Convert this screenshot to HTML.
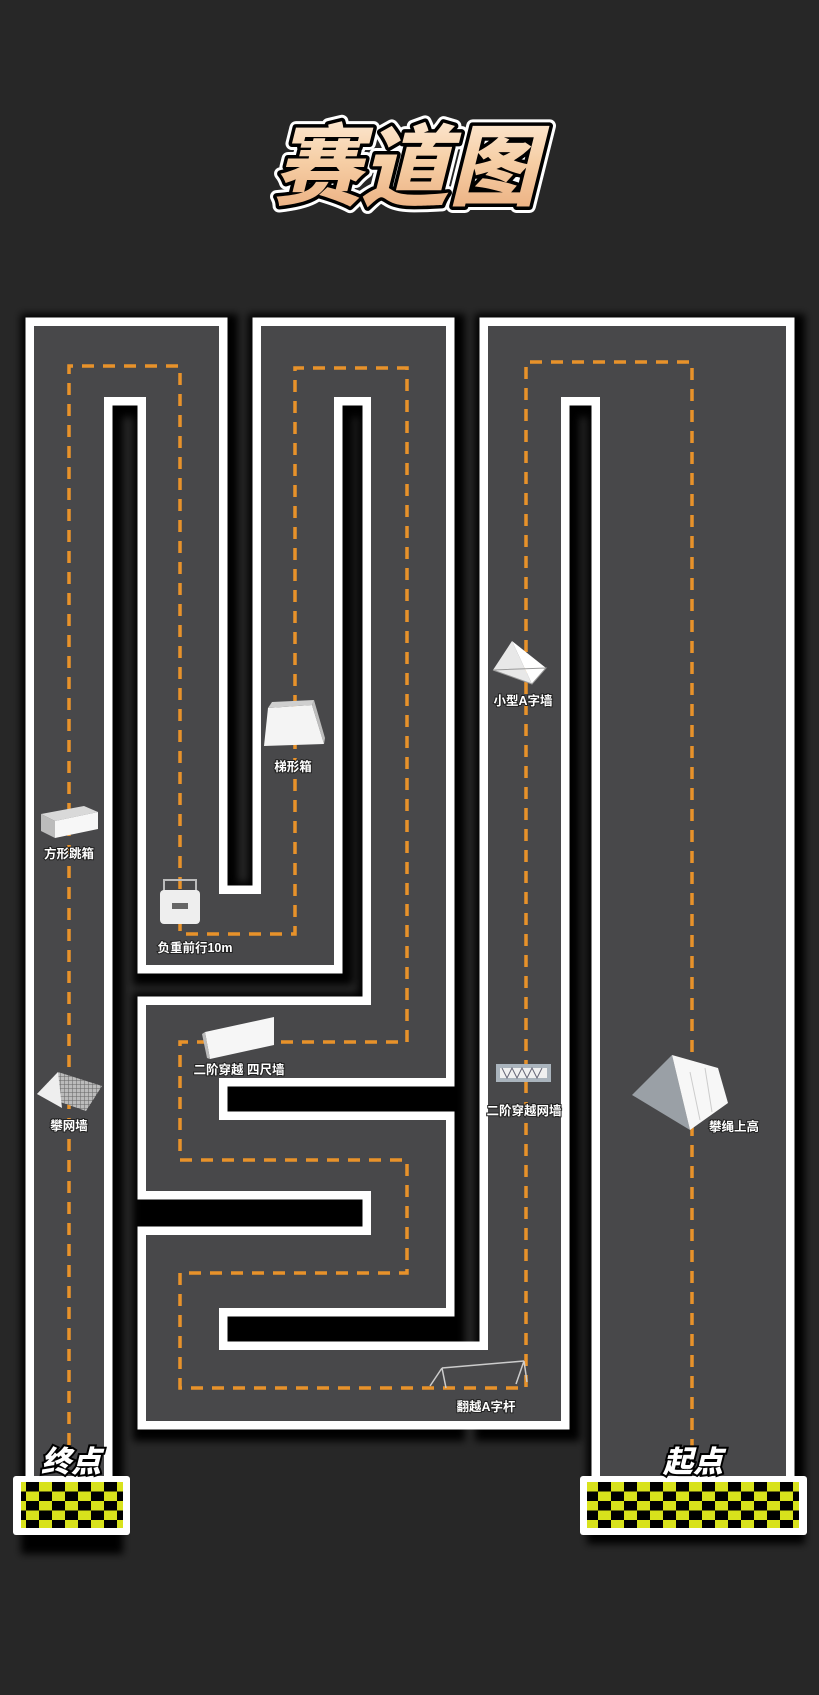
<!DOCTYPE html>
<html><head><meta charset="utf-8"><style>
html,body{margin:0;padding:0;background:#272727;}
svg{display:block}
.lb{font-family:"Liberation Sans","Noto Sans CJK SC",sans-serif;font-weight:bold;font-size:12.5px;fill:#fff;text-anchor:middle;paint-order:stroke;stroke:#222;stroke-width:2px}
.big{font-family:"Liberation Sans","Noto Sans CJK SC",sans-serif;font-weight:900;font-size:30px;fill:#fff;font-style:italic;text-anchor:middle;paint-order:stroke;stroke:#000;stroke-width:4px}
.title{font-family:"Noto Sans CJK SC","WenQuanYi Zen Hei",sans-serif;font-weight:900;font-size:88px;text-anchor:middle;font-style:italic}
</style></head><body>
<svg width="819" height="1695" viewBox="0 0 819 1695" xmlns="http://www.w3.org/2000/svg">
<defs>
<filter id="blur" x="-10%" y="-10%" width="120%" height="120%"><feGaussianBlur stdDeviation="4"/></filter>
<linearGradient id="tg" x1="0" y1="0" x2="0" y2="1">
<stop offset="0" stop-color="#fff3e6"/><stop offset="0.5" stop-color="#f6cfa6"/><stop offset="1" stop-color="#e9a979"/>
</linearGradient>
<pattern id="chk" x="0" y="0" width="26" height="19" patternUnits="userSpaceOnUse">
<rect width="26" height="19" fill="#d8e21c"/>
<rect x="0" y="0" width="13" height="9.5" fill="#000"/>
<rect x="13" y="9.5" width="13" height="9.5" fill="#000"/>
</pattern>
<pattern id="grid" width="4" height="4" patternUnits="userSpaceOnUse"><rect width="4" height="4" fill="#bbb"/><path d="M0 0H4M0 0V4" stroke="#666" stroke-width="1"/></pattern>
</defs>
<rect width="819" height="1695" fill="#272727"/>

<!-- title -->
<g transform="translate(405,198)">
<text class="title" x="0" y="0" fill="none" stroke="#fff" stroke-width="13" stroke-linejoin="round">赛道图</text>
<text class="title" x="0" y="0" fill="none" stroke="#000" stroke-width="7" stroke-linejoin="round">赛道图</text>
<text class="title" x="0" y="0" fill="url(#tg)">赛道图</text>
</g>

<!-- shadows -->
<g fill="#000" filter="url(#blur)" transform="translate(3,4)">
<rect x="18" y="310" width="102" height="1240"/>
<rect x="18" y="310" width="217" height="103"/>
<rect x="130" y="310" width="105" height="671"/>
<rect x="130" y="878" width="220" height="103"/>
<rect x="245" y="310" width="105" height="671"/>
<rect x="245" y="310" width="217" height="103"/>
<rect x="355" y="310" width="107" height="784"/>
<rect x="130" y="989" width="332" height="448"/>
<rect x="472" y="310" width="105" height="1127"/>
<rect x="472" y="310" width="330" height="103"/>
<rect x="584" y="310" width="218" height="1230"/>
</g>

<!-- white borders -->
<g fill="#fff">
<rect x="25.5" y="317.5" width="87" height="1166"/>
<rect x="25.5" y="317.5" width="202" height="88"/>
<rect x="137.5" y="317.5" width="90" height="656"/>
<rect x="137.5" y="885.5" width="205" height="88"/>
<rect x="252.5" y="317.5" width="90" height="656"/>
<rect x="252.5" y="317.5" width="202" height="88"/>
<rect x="362.5" y="317.5" width="92" height="769"/>
<rect x="137.5" y="996.5" width="317" height="90"/>
<rect x="137.5" y="996.5" width="90" height="203"/>
<rect x="137.5" y="1111.5" width="317" height="88"/>
<rect x="362.5" y="1111.5" width="92" height="205"/>
<rect x="137.5" y="1226.5" width="317" height="90"/>
<rect x="137.5" y="1226.5" width="90" height="203"/>
<rect x="137.5" y="1341.5" width="432" height="88"/>
<rect x="479.5" y="317.5" width="90" height="1112"/>
<rect x="479.5" y="317.5" width="315" height="88"/>
<rect x="591.5" y="317.5" width="203" height="1166"/>
<rect x="13" y="1476" width="117" height="59" rx="3"/>
<rect x="580" y="1476" width="227" height="59" rx="3"/>
</g>

<!-- gray road -->
<g fill="#48484a">
<rect x="34" y="326" width="70" height="1150"/>
<rect x="34" y="326" width="185" height="71"/>
<rect x="146" y="326" width="73" height="639"/>
<rect x="146" y="894" width="188" height="71"/>
<rect x="261" y="326" width="73" height="639"/>
<rect x="261" y="326" width="185" height="71"/>
<rect x="371" y="326" width="75" height="752"/>
<rect x="146" y="1005" width="300" height="73"/>
<rect x="146" y="1005" width="73" height="186"/>
<rect x="146" y="1120" width="300" height="71"/>
<rect x="371" y="1120" width="75" height="188"/>
<rect x="146" y="1235" width="300" height="73"/>
<rect x="146" y="1235" width="73" height="186"/>
<rect x="146" y="1350" width="415" height="71"/>
<rect x="488" y="326" width="73" height="1095"/>
<rect x="488" y="326" width="298" height="71"/>
<rect x="600" y="326" width="186" height="1150"/>
</g>

<!-- dashed centerline -->
<path d="M692,1472 V362 H526 V1388 H180 V1273 H407 V1160 H180 V1042 H407 V368 H295 V934 H180 V366 H69 V1472" fill="none" stroke="#e8922a" stroke-width="3.5" stroke-dasharray="12 9"/>

<!-- checker flags -->
<rect x="21" y="1482" width="102" height="46" fill="url(#chk)"/>
<rect x="587" y="1482" width="212" height="46" fill="url(#chk)"/>
<text class="big" x="71" y="1472">终点</text>
<text class="big" x="693" y="1472">起点</text>

<!-- obstacles -->
<polygon points="493,670 512,641 532,684" fill="#e8e8e8"/>
<polygon points="512,641 546,668 532,684" fill="#ffffff"/>
<polygon points="493,670 532,684 546,668" fill="none" stroke="#999" stroke-width="1"/>
<text class="lb" x="523" y="705">小型A字墙</text>
<polygon points="268,708 312,705 324,744 264,746" fill="#f4f4f4"/>
<polygon points="268,708 272,702 314,700 312,705" fill="#cfcfcf"/>
<polygon points="312,705 314,700 325,738 324,744" fill="#bdbdbd"/>
<text class="lb" x="293" y="771">梯形箱</text>
<polygon points="41,814 84,806 98,812 55,821" fill="#d9d9d9"/>
<polygon points="41,814 55,821 55,838 41,831" fill="#bcbcbc"/>
<polygon points="55,821 98,812 98,829 55,838" fill="#f7f7f7"/>
<text class="lb" x="69" y="858">方形跳箱</text>
<path d="M164,892 V880 H196 V892" fill="none" stroke="#bbb" stroke-width="2"/>
<rect x="160" y="890" width="40" height="34" rx="4" fill="#eee"/>
<rect x="172" y="903" width="16" height="6" fill="#666"/>
<text class="lb" x="195" y="952">负重前行10m</text>
<polygon points="205,1032 274,1017 274,1045 210,1059" fill="#f6f6f6"/>
<polygon points="205,1032 210,1059 207,1058 202,1034" fill="#bbb"/>
<text class="lb" x="239" y="1074">二阶穿越 四尺墙</text>
<polygon points="37,1094 58,1072 102,1086 86,1111" fill="url(#grid)"/>
<polygon points="37,1094 58,1072 62,1108" fill="#eee"/>
<text class="lb" x="69" y="1130">攀网墙</text>
<rect x="496" y="1064" width="55" height="18" fill="#aab4bd"/>
<rect x="500" y="1068" width="47" height="10" fill="#f0f0f0"/>
<path d="M502,1068 l5,10 l5,-10 l5,10 l5,-10 l5,10 l5,-10 l5,10 l5,-10" fill="none" stroke="#667" stroke-width="1"/>
<text class="lb" x="524" y="1115">二阶穿越网墙</text>
<polygon points="632,1095 672,1055 690,1130" fill="#9aa0a6"/>
<polygon points="672,1055 718,1068 728,1103 690,1130" fill="#f7f7f7"/>
<path d="M690,1072 L700,1120 M705,1068 L712,1112" stroke="#ccc" stroke-width="1"/>
<text class="lb" x="734" y="1131">攀绳上高</text>
<path d="M442,1368 L524,1361 M442,1368 L430,1386 M442,1368 L446,1388 M524,1361 L516,1384 M524,1361 L527,1382" fill="none" stroke="#ccc" stroke-width="1.5"/>
<text class="lb" x="486" y="1411">翻越A字杆</text>
</svg>
</body></html>
